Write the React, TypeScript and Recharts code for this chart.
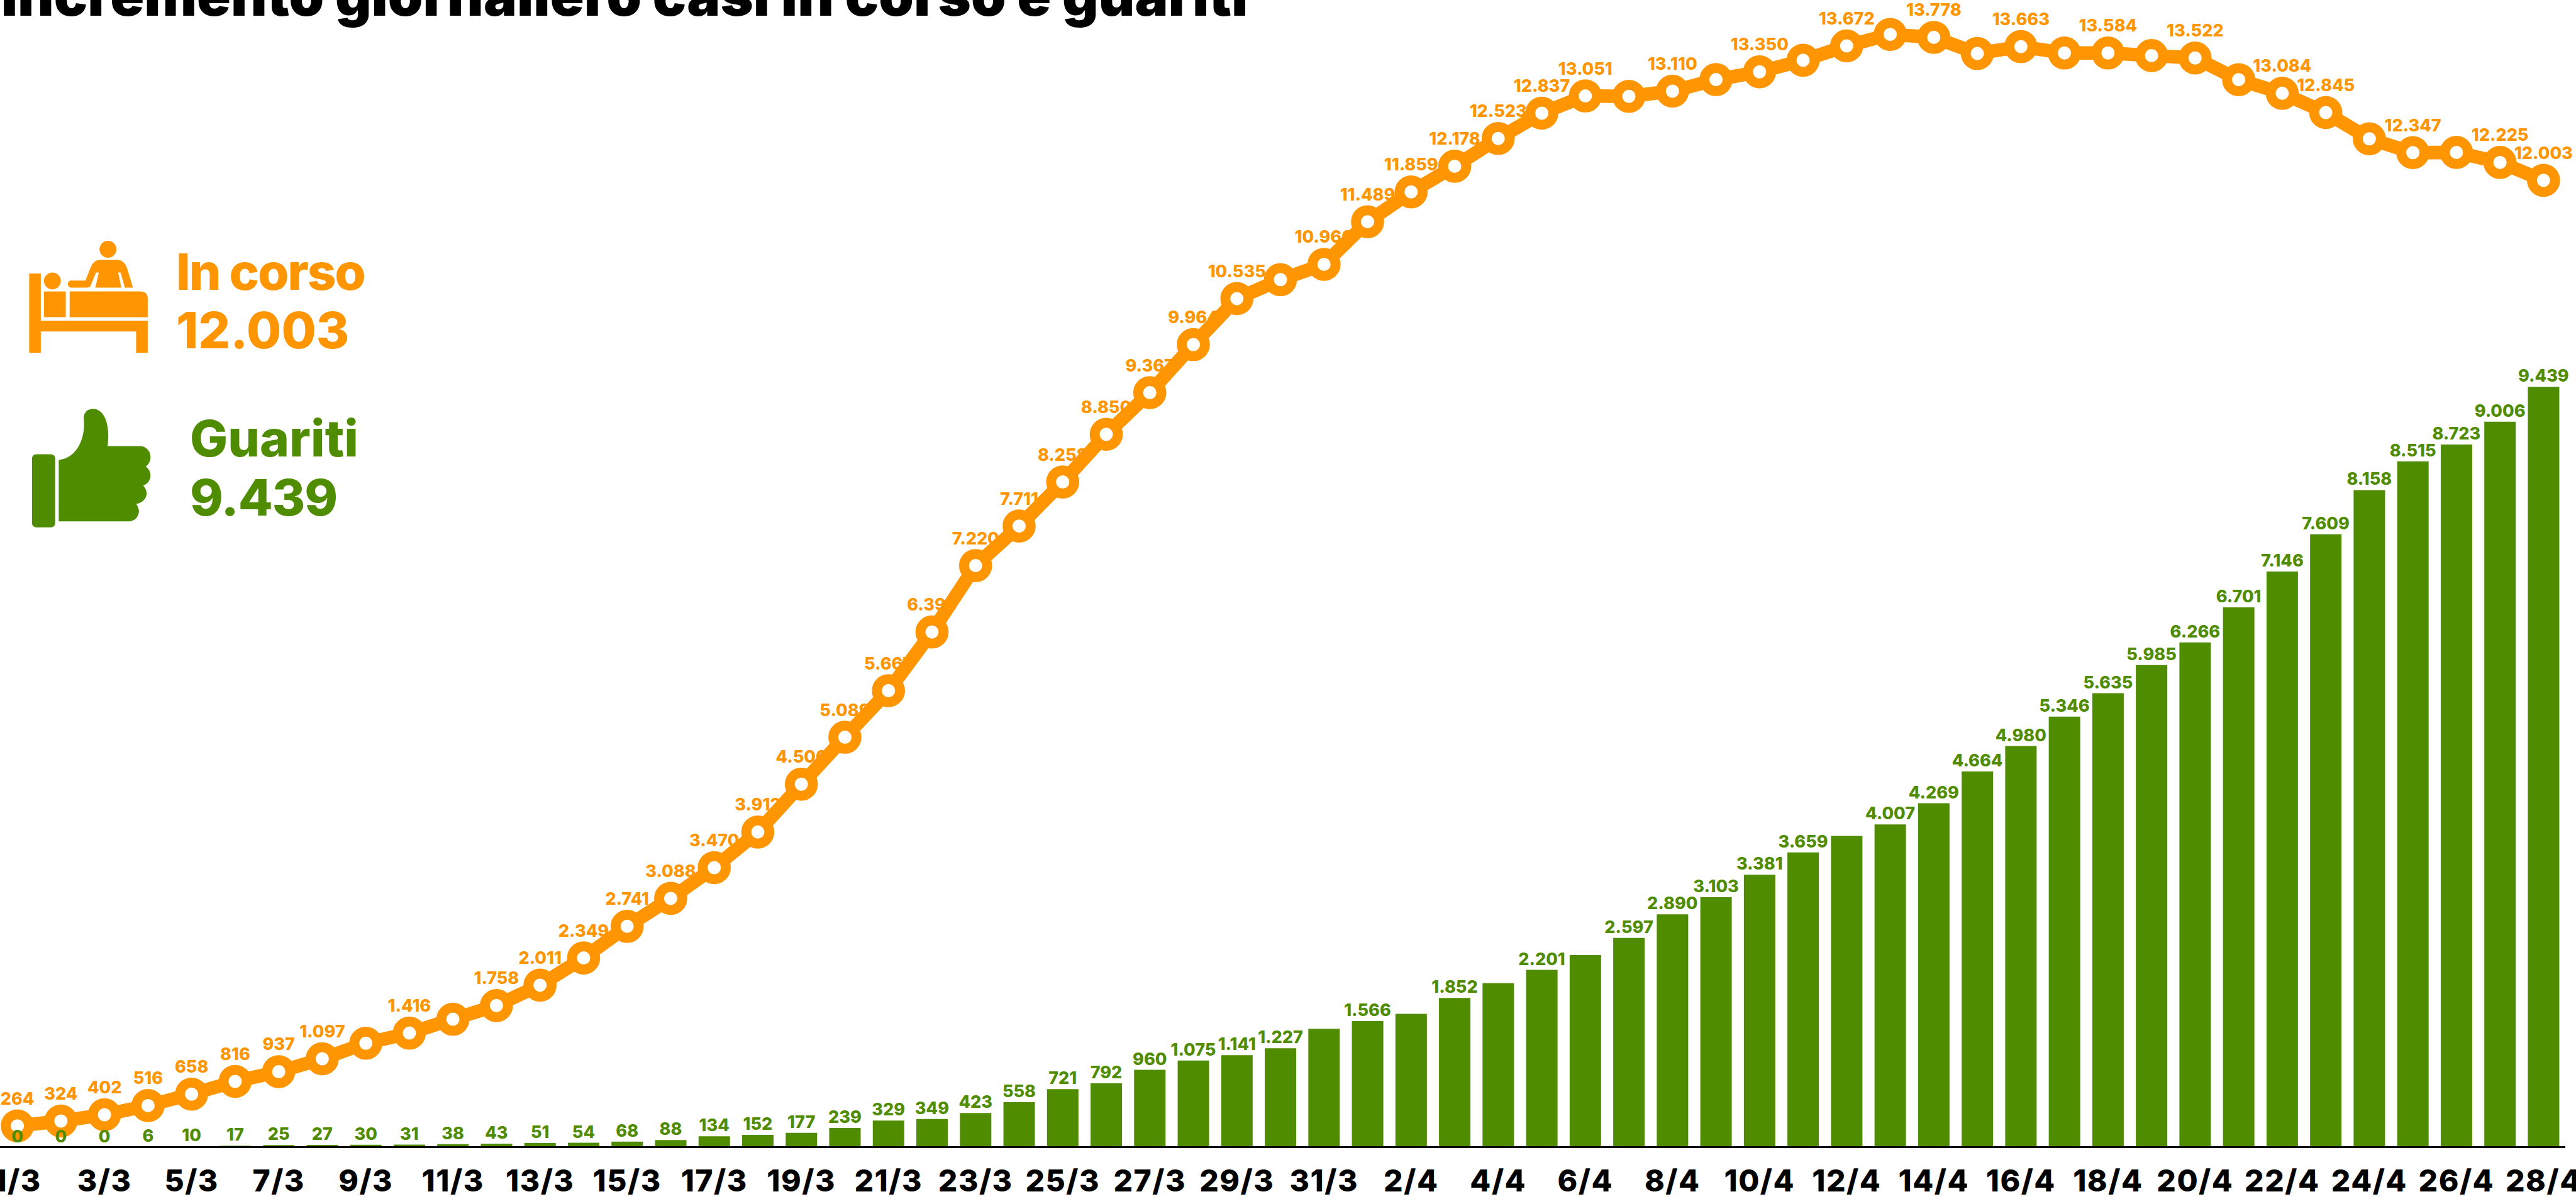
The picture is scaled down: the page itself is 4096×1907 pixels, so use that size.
import { ComposedChart, Bar, Line, XAxis, YAxis, LabelList } from "recharts";

const ORANGE = "#FF9500";
const GREEN = "#4F8C00";
const FONT = "Inter, sans-serif";

const giorni = [
  "1/3", "2/3", "3/3", "4/3", "5/3", "6/3", "7/3", "8/3", "9/3", "10/3",
  "11/3", "12/3", "13/3", "14/3", "15/3", "16/3", "17/3", "18/3", "19/3", "20/3",
  "21/3", "22/3", "23/3", "24/3", "25/3", "26/3", "27/3", "28/3", "29/3", "30/3",
  "31/3", "1/4", "2/4", "3/4", "4/4", "5/4", "6/4", "7/4", "8/4", "9/4",
  "10/4", "11/4", "12/4", "13/4", "14/4", "15/4", "16/4", "17/4", "18/4", "19/4",
  "20/4", "21/4", "22/4", "23/4", "24/4", "25/4", "26/4", "27/4", "28/4",
];

const inCorso = [
  264, 324, 402, 516, 658, 816, 937, 1097, 1290, 1416,
  1588, 1758, 2011, 2349, 2741, 3088, 3470, 3912, 4506, 5089,
  5667, 6396, 7220, 7711, 8258, 8850, 9367, 9964, 10535, 10770,
  10960, 11489, 11859, 12178, 12523, 12837, 13051, 13046, 13110, 13254,
  13350, 13494, 13672, 13815, 13778, 13578, 13663, 13584, 13584, 13552,
  13522, 13253, 13084, 12845, 12519, 12347, 12350, 12225, 12003,
];

const guariti = [
  0, 0, 0, 6, 10, 17, 25, 27, 30, 31,
  38, 43, 51, 54, 68, 88, 134, 152, 177, 239,
  329, 349, 423, 558, 721, 792, 960, 1075, 1141, 1227,
  1470, 1566, 1655, 1852, 2035, 2201, 2385, 2597, 2890, 3103,
  3381, 3659, 3863, 4007, 4269, 4664, 4980, 5346, 5635, 5985,
  6266, 6701, 7146, 7609, 8158, 8515, 8723, 9006, 9439,
];

// giorni senza etichetta nell'originale
const inCorsoSenzaEtichetta = [8, 10, 29, 37, 39, 41, 43, 45, 47, 49, 51, 54, 56];
const guaritiSenzaEtichetta = [30, 32, 34, 36, 42];

const formatta = (v: number) => String(v).replace(/\B(?=(\d{3})+$)/g, ".");

const data = giorni.map((giorno, i) => ({
  giorno,
  inCorso: inCorso[i],
  guariti: guariti[i],
  etichettaInCorso: inCorsoSenzaEtichetta.includes(i) ? null : formatta(inCorso[i]),
  etichettaGuariti: guaritiSenzaEtichetta.includes(i) ? null : formatta(guariti[i]),
}));

const labelStyle = { fontFamily: FONT, fontWeight: 800, fontSize: 27 };

function Overlay() {
  return (
    <svg
      width={4096}
      height={1907}
      style={{ position: "absolute", left: 0, top: 0, pointerEvents: "none" }}
    >
      <text x={2} y={25} fontFamily={FONT} fontWeight={900} fontSize={89} fill="#000">
        Incremento giornaliero casi in corso e guariti
      </text>

      <g fontFamily={FONT} fontWeight={800} fontSize={80}>
        <text x={280} y={461} letterSpacing={-2.2} fill={ORANGE}>In corso</text>
        <text x={280} y={554} fill={ORANGE}>12.003</text>
        <text x={302} y={726} fill={GREEN}>Guariti</text>
        <text x={302} y={820} letterSpacing={-1} fill={GREEN}>9.439</text>
      </g>

      {/* icone */}
      <g transform="scale(0.5592)" fill={ORANGE}>
        <path d="M83,778 L116,778 L116,912 L420,912 L420,1003 L387,1003 L387,943 L116,943 L116,1003 L83,1003 Z" />
        <circle cx={149} cy={799} r={24} />
        <rect x={125} y={829} width={62} height={73} />
        <path d="M198,829 L398,829 Q420,829 420,849 L420,902 L198,902 Z" />
        <circle cx={307} cy={709} r={24} />
        <path d="M285,739 L332,739 Q354,739 362,765 L378,818 L355,818 L343,775 L336,775 L345,818 L271,818 L281,775 L273,775 L258,812 Q255,818 248,818 L203,818 Q193,818 193,808 Q193,798 203,798 L243,798 L258,760 Q266,739 285,739 Z" />
      </g>
      <g transform="scale(0.5592)" fill={GREEN}>
        <rect x={91} y={1292} width={66} height={208} rx={12} />
        <path d="M167,1308 C215,1305 245,1250 238,1190 C238,1172 250,1163 265,1163 C290,1163 315,1195 306,1269 L398,1269 C415,1269 428,1283 428,1300 C428,1312 422,1322 414,1327 C423,1333 428,1342 428,1352 C428,1366 419,1377 407,1381 C413,1387 417,1395 417,1404 C417,1418 404,1432 387,1433 C391,1439 395,1446 395,1454 C395,1470 382,1483 366,1483 L167,1483 Z" />
      </g>
    </svg>
  );
}

export default function App() {
  return (
    <div
      style={{
        position: "absolute",
        left: 0,
        top: 0,
        width: 4096,
        height: 1907,
        overflow: "hidden",
        background: "#fff",
      }}
    >
      <div style={{ position: "absolute", left: -40, top: 0 }}>
        <ComposedChart
          width={4176}
          height={1907}
          data={data}
          margin={{ top: 31, right: 57, bottom: 0, left: 33 }}
          barCategoryGap="14%"
        >
          <XAxis
            dataKey="giorno"
            interval={1}
            height={82.5}
            tickLine={false}
            tickMargin={30}
            axisLine={{ stroke: "#000", strokeWidth: 3 }}
            tick={{ fill: "#000", fontFamily: FONT, fontWeight: 800, fontSize: 48, letterSpacing: 1.5 }}
          />
          <YAxis hide domain={[0, 14000]} />
          <Bar dataKey="guariti" fill={GREEN} isAnimationActive={false} />
          <Line
            dataKey="inCorso"
            stroke="none"
            dot={false}
            activeDot={false}
            isAnimationActive={false}
          >
            <LabelList
              dataKey="etichettaInCorso"
              position="top"
              offset={34}
              fill={ORANGE}
              style={labelStyle}
            />
          </Line>
          <Line
            dataKey="inCorso"
            stroke={ORANGE}
            strokeWidth={21.5}
            dot={{ r: 18.4, fill: "#fff", stroke: ORANGE, strokeWidth: 15.8 }}
            activeDot={false}
            isAnimationActive={false}
          />
          <Line
            dataKey="guariti"
            stroke="none"
            dot={false}
            activeDot={false}
            isAnimationActive={false}
          >
            <LabelList
              dataKey="etichettaGuariti"
              position="top"
              offset={8}
              fill={GREEN}
              style={labelStyle}
            />
          </Line>
        </ComposedChart>
      </div>
      <Overlay />
    </div>
  );
}
